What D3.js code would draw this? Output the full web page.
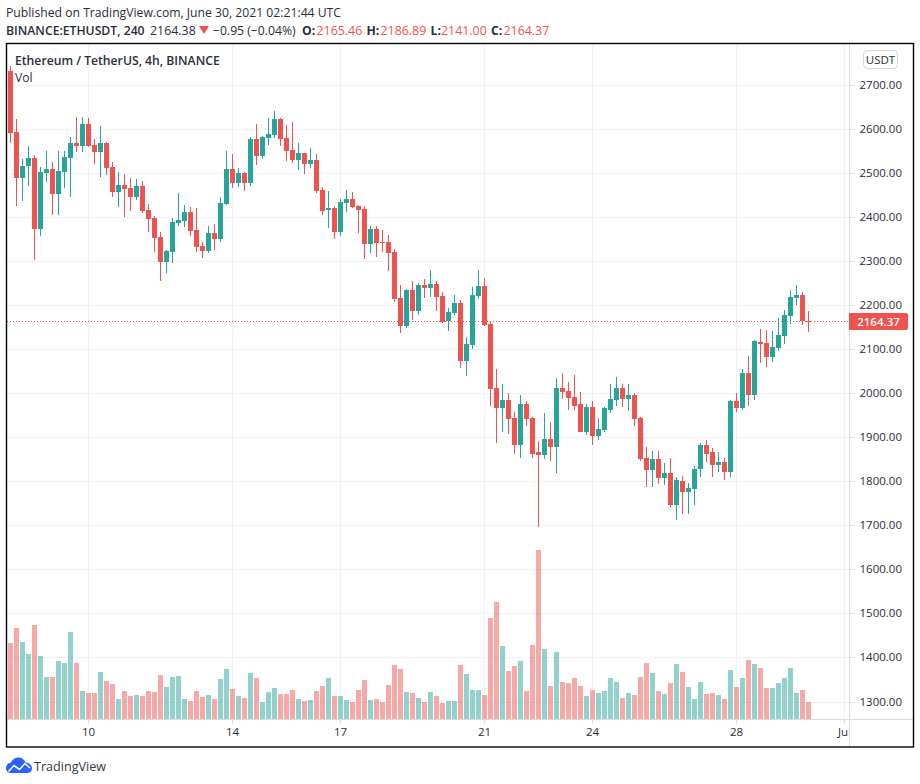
<!DOCTYPE html>
<html>
<head>
<meta charset="utf-8">
<script src="https://cdn.jsdelivr.net/npm/d3@7"></script>
<style>
  body { margin: 0; background: #fff; }
  text { font-family: "Open Sans", sans-serif; }
</style>
</head>
<body>
<div id="chart"></div>
<script>
// 4h candles
var opens = [2733,2594,2489,2517,2535,2373,2501,2510,2453,2503,
  2535,2569,2562,2612,2564,2548,2569,2514,2458,2473,
  2467,2446,2471,2417,2398,2355,2298,2321,2387,2392,
  2412,2371,2335,2323,2364,2351,2430,2510,2478,2501,
  2478,2578,2539,2580,2587,2623,2580,2553,2530,2546,
  2521,2530,2462,2417,2421,2367,2433,2442,2426,2419,
  2339,2373,2344,2344,2321,2217,2153,2235,2187,2246,
  2239,2248,2221,2164,2183,2205,2073,2110,2221,2244,
  2158,2012,1967,1985,1944,1883,1976,1944,1867,1860,
  1896,1878,2012,2005,1992,1976,1914,1969,1903,1917,
  1964,1985,2012,1987,1996,1944,1853,1826,1851,1808,
  1819,1748,1801,1776,1783,1828,1883,1867,1837,1844,
  1821,1983,1967,2048,1998,2117,2114,2083,2103,2130,
  2176,2217,2223,2165.46];
var highs = [2744,2623,2533,2562,2542,2514,2551,2526,2551,2551,
  2583,2628,2628,2626,2578,2608,2571,2526,2503,2498,
  2489,2487,2483,2430,2403,2367,2326,2398,2455,2428,
  2423,2421,2344,2380,2385,2446,2551,2544,2512,2503,
  2583,2612,2585,2626,2642,2626,2610,2617,2569,2546,
  2558,2544,2469,2460,2426,2442,2462,2458,2428,2426,
  2380,2380,2371,2360,2328,2246,2237,2255,2251,2260,
  2280,2255,2230,2194,2223,2212,2128,2242,2280,2262,
  2164,2055,2023,2001,1958,1998,1983,1946,1892,1955,
  1935,2035,2046,2026,2042,2003,1976,1983,1944,1969,
  2021,2037,2021,2021,2001,1948,1880,1869,1869,1842,
  1853,1810,1814,1798,1835,1889,1894,1876,1867,1853,
  1985,2001,2055,2085,2121,2146,2144,2142,2171,2189,
  2235,2246,2230,2186.89];
var lows = [2569,2426,2437,2471,2303,2358,2480,2405,2405,2467,
  2446,2548,2548,2560,2521,2492,2496,2446,2423,2401,
  2414,2439,2410,2367,2321,2255,2273,2296,2380,2378,
  2358,2321,2308,2319,2326,2344,2428,2467,2469,2460,
  2471,2519,2533,2564,2580,2562,2528,2523,2508,2498,
  2512,2455,2405,2376,2351,2358,2412,2421,2364,2305,
  2319,2310,2321,2278,2208,2137,2148,2167,2178,2217,
  2219,2187,2160,2142,2178,2058,2039,2101,2214,2153,
  1971,1889,1912,1908,1864,1855,1926,1853,1698,1851,
  1846,1819,1987,1964,1964,1914,1905,1883,1894,1912,
  1955,1971,1969,1960,1926,1848,1789,1789,1796,1792,
  1742,1714,1726,1726,1748,1810,1844,1810,1821,1803,
  1810,1958,1962,1973,1985,2069,2060,2071,2096,2112,
  2158,2201,2155,2141];
var closes = [2592,2489,2517,2535,2373,2503,2510,2453,2505,2537,
  2569,2562,2612,2562,2548,2569,2512,2458,2473,2464,
  2446,2471,2414,2396,2353,2298,2323,2389,2394,2412,
  2369,2333,2323,2364,2351,2433,2510,2478,2501,2478,
  2578,2539,2583,2589,2623,2578,2551,2530,2546,2521,
  2530,2460,2414,2421,2367,2435,2442,2423,2417,2339,
  2373,2342,2342,2319,2214,2153,2235,2187,2246,2239,
  2248,2219,2162,2185,2205,2073,2112,2223,2244,2155,
  2010,1967,1985,1942,1883,1976,1942,1864,1860,1896,
  1878,2012,2003,1989,1973,1914,1969,1903,1919,1967,
  1987,2012,1987,1996,1942,1851,1826,1851,1808,1819,
  1748,1803,1776,1785,1830,1883,1864,1837,1844,1821,
  1983,1967,2048,1998,2119,2112,2083,2105,2133,2178,
  2219,2223,2164,2164.37];
// volume has no scale on the picture, so these are relative
var volumes = [76,91,77,65,94,63,42,42,58,56,
  87,56,28,26,26,47,38,35,20,28,
  23,24,23,28,27,44,32,42,43,20,
  18,28,22,24,20,40,50,30,23,21,
  46,41,17,27,31,25,25,29,20,18,
  19,28,33,41,23,23,19,17,29,39,
  19,20,17,34,54,50,27,26,21,17,
  27,23,16,18,18,54,45,29,29,24,
  101,117,73,48,53,58,28,74,169,70,
  33,67,37,36,41,33,23,29,26,28,
  41,37,21,26,24,42,56,46,28,25,
  36,55,47,32,20,37,25,26,24,20,
  49,32,41,59,55,51,31,31,36,41,
  51,26,29,17];

var priceTicks = [1300,1400,1500,1600,1700,1800,1900,2000,2100,2200,2300,2400,2500,2600,2700];
var dayPositions = [13,37,55,79,97,121,139];
var dayLabels = ["10","14","17","21","24","28","Jul"];
var lastPrice = 2164.37;

var upColor = "#26a69a", downColor = "#ef5350";
var gridColor = "#f1f2f5", axisColor = "#dadbdf", textColor = "#2a2e39";
var left = 7, right = 849, top_ = 44, bottom = 719;

var svg = d3.select("#chart").append("svg").attr("width", 920).attr("height", 784);

var x = d3.scaleLinear().domain([0, 133]).range([10.5, 808.5]);
var y = d3.scaleLinear().domain([1300, 2700]).range([702, 85.3]);
var yVol = d3.scaleLinear().domain([0, 170]).range([719, 549]);

var clip = svg.append("defs");
clip.append("clipPath").attr("id", "pane").append("rect")
  .attr("x", left).attr("y", top_).attr("width", right - left).attr("height", bottom - top_);
clip.append("clipPath").attr("id", "timepane").append("rect")
  .attr("x", left).attr("y", bottom).attr("width", right - left).attr("height", 28);

function rowY(v) { return Math.floor(y(v)) + 0.5; }

var pane = svg.append("g").attr("clip-path", "url(#pane)");

// grid
pane.selectAll(".hgrid").data(priceTicks).enter().append("line")
  .attr("x1", left).attr("x2", right)
  .attr("y1", rowY).attr("y2", rowY)
  .attr("stroke", gridColor);
pane.selectAll(".vgrid").data(dayPositions).enter().append("line")
  .attr("x1", function (d) { return x(d); }).attr("x2", function (d) { return x(d); })
  .attr("y1", top_).attr("y2", bottom)
  .attr("stroke", gridColor);

var candles = d3.range(opens.length);
function isUp(i) { return closes[i] >= opens[i]; }

// volume bars
pane.selectAll(".vol").data(candles).enter().append("rect")
  .attr("x", function (i) { return x(i) - 2.5; })
  .attr("width", 5)
  .attr("y", function (i) { return Math.round(yVol(volumes[i])); })
  .attr("height", function (i) { return 719 - Math.round(yVol(volumes[i])); })
  .attr("fill", function (i) { return isUp(i) ? upColor : downColor; })
  .attr("fill-opacity", 0.5);

// last price line
pane.append("line")
  .attr("x1", left).attr("x2", right)
  .attr("y1", rowY(lastPrice)).attr("y2", rowY(lastPrice))
  .attr("stroke", downColor)
  .attr("stroke-dasharray", "1 2");

// wicks
pane.selectAll(".wick").data(candles).enter().append("rect")
  .attr("x", function (i) { return x(i) - 0.5; })
  .attr("width", 1)
  .attr("y", function (i) { return Math.round(y(highs[i])); })
  .attr("height", function (i) { return Math.round(y(lows[i])) - Math.round(y(highs[i])); })
  .attr("fill", function (i) { return isUp(i) ? upColor : downColor; });

// bodies
pane.selectAll(".body").data(candles).enter().append("rect")
  .attr("x", function (i) { return x(i) - 2.5; })
  .attr("width", 5)
  .attr("y", function (i) { return Math.round(y(Math.max(opens[i], closes[i]))); })
  .attr("height", function (i) {
    var t = Math.round(y(Math.max(opens[i], closes[i])));
    var b = Math.round(y(Math.min(opens[i], closes[i])));
    return Math.max(1, b - t);
  })
  .attr("fill", function (i) { return isUp(i) ? upColor : downColor; });

// price axis
var priceAxis = svg.append("g")
  .attr("transform", "translate(849.5,0)")
  .call(d3.axisRight(y).tickValues(priceTicks).tickSize(4).tickPadding(6).tickFormat(d3.format(".2f")));
priceAxis.select(".domain").remove();
priceAxis.selectAll(".tick").attr("transform", function (d) { return "translate(0," + rowY(d) + ")"; });
priceAxis.selectAll("line").attr("stroke", axisColor);
priceAxis.selectAll("text")
  .attr("fill", textColor).style("font-size", "11.5px").style("font-family", '"Open Sans", sans-serif');

// time axis, the clip sits on an outer group so it stays in page coordinates
var timeAxis = svg.append("g").attr("clip-path", "url(#timepane)").append("g")
  .attr("transform", "translate(0,719.5)");
timeAxis.call(d3.axisBottom(x).tickValues(dayPositions).tickSize(4).tickPadding(4)
  .tickFormat(function (d, i) { return dayLabels[i]; }));
timeAxis.select(".domain").remove();
timeAxis.selectAll(".tick").attr("transform", function (d) { return "translate(" + x(d) + ",0)"; });
timeAxis.selectAll("line").attr("stroke", axisColor);
timeAxis.selectAll("text")
  .attr("fill", textColor).style("font-size", "11.5px").style("font-family", '"Open Sans", sans-serif');

// axis borders and outer frame
svg.append("line").attr("x1", 849.5).attr("x2", 849.5).attr("y1", 44).attr("y2", 747).attr("stroke", axisColor);
svg.append("line").attr("x1", 7).attr("x2", 913).attr("y1", 719.5).attr("y2", 719.5).attr("stroke", axisColor);
svg.append("rect").attr("x", 6.5).attr("y", 43.5).attr("width", 907).attr("height", 703.5)
  .attr("fill", "none").attr("stroke", "#000").attr("stroke-width", 1.4);

// last price badge
svg.append("path")
  .attr("d", "M849 313H906a2 2 0 0 1 2 2V328a2 2 0 0 1 -2 2H849Z")
  .attr("fill", downColor);
svg.append("text").attr("x", 878.5).attr("y", 325.5).attr("text-anchor", "middle")
  .attr("fill", "#fff").style("font-size", "11.5px").style("font-weight", "600")
  .text(d3.format(".2f")(lastPrice));

// currency button
svg.append("rect").attr("x", 863.5).attr("y", 50.5).attr("width", 34).attr("height", 18).attr("rx", 4)
  .attr("fill", "#fff").attr("stroke", "#d6d8e0");
svg.append("text").attr("x", 880.5).attr("y", 63.5).attr("text-anchor", "middle")
  .attr("fill", textColor).style("font-size", "11.5px").text("USDT");

// header
function label(xp, yp, str, size, weight, color) {
  svg.append("text").attr("x", xp).attr("y", yp)
    .attr("fill", color || textColor)
    .style("font-size", size + "px").style("font-weight", weight || 400)
    .text(str);
}
label(6, 17, "Published on TradingView.com, June 30, 2021 02:21:44 UTC", 12.2);
label(6, 34.5, "BINANCE:ETHUSDT, 240", 12.2, 600);
label(150, 34.5, "2164.38", 12.4);
svg.append("path").attr("d", "M199 26H209L204 34Z").attr("fill", downColor);
label(213, 34.5, "\u22120.95 (\u22120.04%)", 12.2);
label(302, 34.5, "O:", 12.2, 700);
label(316.5, 34.5, "2165.46", 12.4, 400, downColor);
label(366.5, 34.5, "H:", 12.2, 700);
label(380.5, 34.5, "2186.89", 12.4, 400, downColor);
label(430.5, 34.5, "L:", 12.2, 700);
label(441, 34.5, "2141.00", 12.4, 400, downColor);
label(491, 34.5, "C:", 12.2, 700);
label(503.5, 34.5, "2164.37", 12.4, 400, downColor);

label(15, 65, "Ethereum / TetherUS, 4h, BINANCE", 12.2, 600);
label(15, 82, "Vol", 12.2);

// footer logo
svg.append("path")
  .attr("d", "M11 773C7.5 773 6 770.5 6 768C6 765 8 763 10.5 763C12 759.5 15 757.5 18.5 757.5C22 757.5 24.5 759.5 25.5 762.5C29 762.5 32 765 32 768C32 771 30 773 27 773Z")
  .attr("fill", "#2962ff");
svg.append("path")
  .attr("d", "M8.5 771.5L14 765.5L19.5 769.5L25 763.5L30 768")
  .attr("fill", "none").attr("stroke", "#fff").attr("stroke-width", 1.6);
label(34, 771, "TradingView", 12.6, 400, "#363a45");
</script>
</body>
</html>
